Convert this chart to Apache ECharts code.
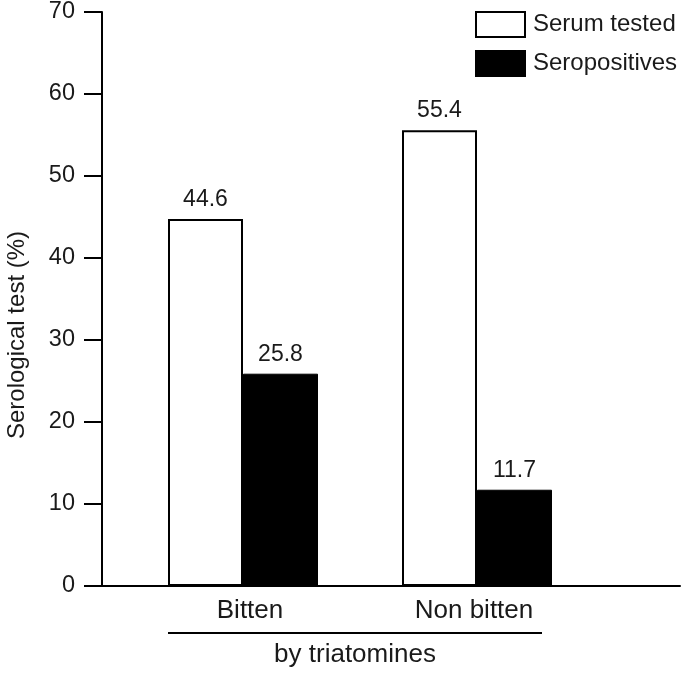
<!DOCTYPE html>
<html>
<head>
<meta charset="utf-8">
<script src="https://cdn.jsdelivr.net/npm/echarts@6/dist/echarts.min.js"></script>
<style>html,body{margin:0;padding:0;background:#fff}#c{width:684px;height:678px}</style>
</head>
<body>
<div id="c"></div>
<script>
const categories = ['Bitten', 'Non bitten'];
const serumTested = [44.6, 55.4];
const seropositives = [25.8, 11.7];
const seriesNames = ['Serum tested', 'Seropositives'];
const yTicks = [0, 70, 10]; // min, max, interval
const axisTitle = 'Serological test (%)';
const groupTitle = 'by triatomines';

const FONT = '"Liberation Sans", Arial, Helvetica, sans-serif';
const TXT = '#1a1a1a';
const labelPads = [[0, 0, 0, 14], [0, 6, 0, 0]];
const chart = echarts.init(document.getElementById('c'), null, {renderer: 'canvas'});

chart.setOption({
  animation: false,
  backgroundColor: '#fff',
  textStyle: {fontFamily: FONT, color: TXT},
  grid: [
    {left: 102, right: 4, top: 10, bottom: 92},
    {left: 126, right: 90, top: 10, bottom: 92}
  ],
  legend: {
    orient: 'vertical', left: 475, top: 11, padding: 0,
    itemWidth: 49, itemHeight: 25, itemGap: 12,
    icon: 'rect',
    textStyle: {fontSize: 24, color: TXT, fontFamily: FONT, padding: [0, 0, 0, 3]},
    data: seriesNames
  },
  xAxis: [
    {gridIndex: 0, type: 'value', min: 0, max: 1,
     axisLine: {show: true, onZero: false, lineStyle: {color: '#000', width: 2}},
     axisTick: {show: false}, axisLabel: {show: false}, splitLine: {show: false}},
    {gridIndex: 1, type: 'category',
     data: categories.map((c, i) => ({value: c, textStyle: {padding: labelPads[i]}})),
     axisLine: {show: false}, axisTick: {show: false},
     axisLabel: {fontSize: 26, color: TXT, margin: 12, fontFamily: FONT}}
  ],
  yAxis: [
    {gridIndex: 0, type: 'value', min: yTicks[0], max: yTicks[1], interval: yTicks[2],
     axisLine: {show: true, lineStyle: {color: '#000', width: 2}},
     axisTick: {show: true, length: 18, lineStyle: {color: '#000', width: 2}},
     axisLabel: {fontSize: 23.5, color: TXT, margin: 27, fontFamily: FONT},
     splitLine: {show: false}},
    {gridIndex: 1, type: 'value', min: yTicks[0], max: yTicks[1], interval: yTicks[2], show: false}
  ],
  series: [
    {name: seriesNames[0], type: 'bar', xAxisIndex: 1, yAxisIndex: 1,
     data: serumTested, barWidth: 75, barGap: '0%',
     itemStyle: {color: '#fff', borderColor: '#000', borderWidth: 2},
     label: {show: true, position: 'top', distance: 8, fontSize: 23, color: TXT, fontFamily: FONT}},
    {name: seriesNames[1], type: 'bar', xAxisIndex: 1, yAxisIndex: 1,
     data: seropositives, barWidth: 75, barGap: '0%',
     itemStyle: {color: '#000', borderColor: '#000', borderWidth: 1},
     label: {show: true, position: 'top', distance: 8, fontSize: 23, color: TXT, fontFamily: FONT}}
  ],
  graphic: [
    {type: 'text', x: 17, y: 335, rotation: Math.PI / 2,
     style: {text: axisTitle, fontSize: 24, fontFamily: FONT, fill: TXT, textAlign: 'center', textVerticalAlign: 'middle'}},
    {type: 'line', shape: {x1: 168, y1: 633, x2: 542, y2: 633}, style: {stroke: '#000', lineWidth: 2}},
    {type: 'text', x: 355, y: 655,
     style: {text: groupTitle, fontSize: 26, fontFamily: FONT, fill: TXT, textAlign: 'center', textVerticalAlign: 'middle'}}
  ]
});
</script>
</body>
</html>
